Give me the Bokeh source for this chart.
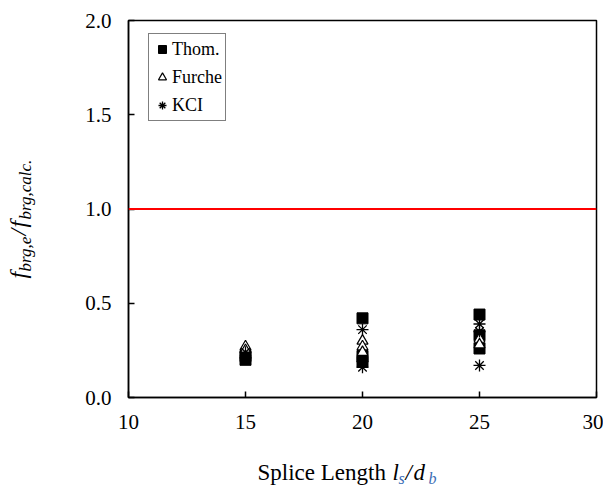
from bokeh.plotting import figure
from bokeh.models import Label, Span, FixedTicker, PrintfTickFormatter
from bokeh.layouts import row, column
from bokeh.embed import file_html
from bokeh.resources import INLINE
import math

# ---- data ----
thom_x = [15, 15, 20, 20, 20, 25, 25, 25]
thom_y = [0.20, 0.22, 0.42, 0.22, 0.19, 0.44, 0.33, 0.26]
furche_x = [15, 15, 20, 20, 20, 25, 25]
furche_y = [0.27, 0.25, 0.30, 0.27, 0.24, 0.31, 0.28]
kci_x = [15, 15, 20, 20, 20, 25, 25, 25]
kci_y = [0.24, 0.21, 0.36, 0.19, 0.16, 0.39, 0.35, 0.17]
ref_level = [1.0]
x_ticks = [10, 15, 20, 25, 30]
y_ticks = [0.0, 0.5, 1.0, 1.5, 2.0]

FONT = "Liberation Serif"
W, H = 603, 487
FRAME_L, FRAME_R, FRAME_T, FRAME_B = 128, 596, 20, 397   # canvas px of plot frame
STRIP_L = 50      # width of the left strip holding the y title
STRIP_B = 47      # height of the bottom strip holding the x title
MAIN_W, MAIN_H = W - STRIP_L, H - STRIP_B

p = figure(width=MAIN_W, height=MAIN_H, x_range=(10, 30), y_range=(0, 2),
           output_backend="svg", toolbar_location=None,
           min_border_left=FRAME_L - STRIP_L, min_border_right=W - FRAME_R,
           min_border_top=FRAME_T, min_border_bottom=MAIN_H - FRAME_B)
p.background_fill_color = "white"
p.border_fill_color = "white"
p.grid.visible = False
p.outline_line_color = "black"
p.outline_line_width = 1.5

for ax in (p.xaxis[0], p.yaxis[0]):
    ax.axis_line_width = 1.5
    ax.axis_line_color = "black"
    ax.major_tick_in = 6
    ax.major_tick_out = 0
    ax.minor_tick_in = 0
    ax.minor_tick_out = 0
    ax.major_tick_line_width = 1.5
    ax.major_label_text_font = FONT
    ax.major_label_text_font_size = "21px"
    ax.major_label_text_color = "black"

p.xaxis.ticker = FixedTicker(ticks=x_ticks)
p.yaxis.ticker = FixedTicker(ticks=y_ticks)
p.yaxis.formatter = PrintfTickFormatter(format="%.1f")
p.xaxis.major_label_standoff = 17
p.yaxis.major_label_standoff = 17

for lvl in ref_level:
    p.add_layout(Span(location=lvl, dimension="width", line_color="#ff0000", line_width=2))

p.scatter(thom_x, thom_y, marker="square", size=11, fill_color="black", line_color="black",
          legend_label="Thom.")
p.scatter(furche_x, furche_y, marker="triangle", size=11, fill_color="white", line_color="black",
          line_width=1.2, legend_label="Furche")
p.scatter(kci_x, kci_y, marker="asterisk", size=12, line_color="black", line_width=1.3,
          legend_label="KCI")

lg = p.legend[0]
lg.border_line_color = "black"
lg.border_line_width = 1
lg.background_fill_alpha = 1
lg.label_text_font = FONT
lg.label_text_font_size = "18px"
lg.label_text_color = "black"
lg.label_height = 24
lg.glyph_width = 20
lg.glyph_height = 24
lg.label_standoff = 0
lg.spacing = 4
lg.padding = 3
lg.margin = 0
lg.location = (20, 276)

# ---- strips for the composed axis titles ----
def strip(w, h, bl, br, bt, bb):
    s = figure(width=w, height=h, x_range=(0, 1), y_range=(0, 1),
               x_axis_type=None, y_axis_type=None,
               output_backend="svg", toolbar_location=None,
               min_border=0, min_border_left=bl, min_border_right=br,
               min_border_top=bt, min_border_bottom=bb)
    s.grid.visible = False
    s.outline_line_color = None
    s.background_fill_color = "white"
    s.border_fill_color = "white"
    return s

# left strip: frame spans canvas y FRAME_T..FRAME_B, x 0..STRIP_L
ys = strip(STRIP_L, H, 0, 0, FRAME_T, H - FRAME_B)
# bottom strip: frame spans canvas x FRAME_L..FRAME_R, y MAIN_H..H
xs = strip(MAIN_W, STRIP_B, FRAME_L - STRIP_L, W - FRAME_R, 0, 0)

DESC = 0.22  # descent fraction: "bottom" baseline sits this far below the alphabetic one

def xlab(text, px, base_py, size, italic=False, color="black"):
    p_bottom = base_py + DESC * size
    xs.add_layout(Label(x=px - FRAME_L, y=H - p_bottom, x_units="screen", y_units="screen",
                        text=text, text_font=FONT, text_font_size=f"{size}px",
                        text_font_style="italic" if italic else "normal",
                        text_color=color, text_baseline="bottom", text_align="left"))

def ylab(text, base_px, start_py, size, italic=True):
    ax_px = base_px + DESC * size
    ys.add_layout(Label(x=ax_px, y=FRAME_B - start_py, x_units="screen", y_units="screen",
                        text=text, text_font=FONT, text_font_size=f"{size}px",
                        text_font_style="italic" if italic else "normal",
                        text_color="black", text_baseline="bottom", text_align="left",
                        angle=math.pi / 2))

sub_col = "#3a6db5"
xlab("Splice Length", 257, 479, 23)
xlab("l", 392, 479, 23, italic=True)
xlab("s", 398, 483, 16, italic=True, color=sub_col)
xlab("/", 405, 479, 23, italic=True)
xlab("d", 413, 479, 23, italic=True)
xlab("b", 428, 483, 16, italic=True, color=sub_col)

ylab("f", 25, 278, 24)
ylab("brg,e", 31, 271, 17)
ylab("/", 25, 235, 24)
ylab("f", 25, 227, 24)
ylab("brg,calc.", 31, 219, 17)

layout = row(ys, column(p, xs, spacing=0), spacing=0)
open("out.html", "w").write(file_html(layout, INLINE))
